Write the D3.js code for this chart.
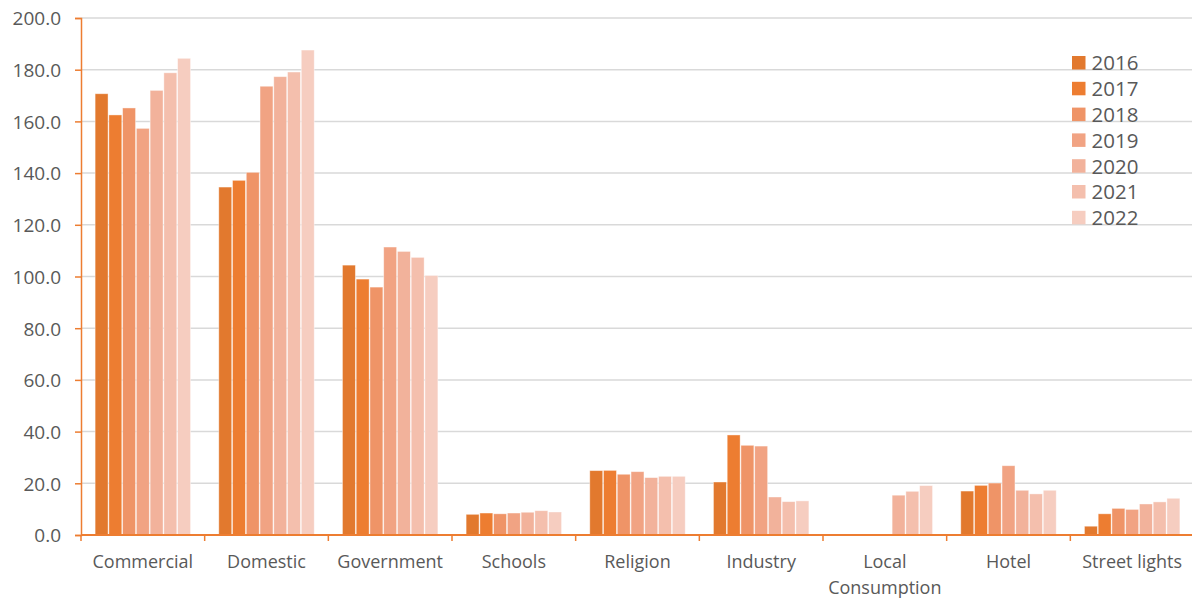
<!DOCTYPE html>
<html>
<head>
<meta charset="utf-8">
<script src="https://cdn.jsdelivr.net/npm/d3@7"></script>
<style>
  body { margin: 0; background: #fff; }
  text { font-family: "Open Sans", sans-serif; fill: #595959; }
</style>
</head>
<body>
<div id="chart"></div>
<script>
// Chart data
const categories = ["Commercial", "Domestic", "Government", "Schools", "Religion", "Industry", "Local Consumption", "Hotel", "Street lights"];
const years = ["2016", "2017", "2018", "2019", "2020", "2021", "2022"];
const v2016 = [170.7, 134.6, 104.4, 8.0, 24.9, 20.5, 0, 17.0, 3.4];
const v2017 = [162.5, 137.2, 99.0, 8.5, 25.0, 38.7, 0, 19.2, 8.2];
const v2018 = [165.2, 140.3, 95.9, 8.2, 23.5, 34.7, 0, 20.1, 10.3];
const v2019 = [157.3, 173.6, 111.4, 8.5, 24.5, 34.4, 0, 26.8, 9.9];
const v2020 = [172.0, 177.3, 109.7, 8.8, 22.2, 14.7, 15.4, 17.3, 12.0];
const v2021 = [178.8, 179.1, 107.4, 9.4, 22.7, 12.9, 16.9, 15.9, 12.8];
const v2022 = [184.4, 187.6, 100.4, 8.9, 22.7, 13.2, 19.1, 17.3, 14.2];
const yTicks = [0, 20, 40, 60, 80, 100, 120, 140, 160, 180, 200];

const series = [v2016, v2017, v2018, v2019, v2020, v2021, v2022];
const colors = ["#E2792E", "#ED7D31", "#EF9467", "#F1A383", "#F2B29B", "#F4BFAD", "#F6CDC0"];

const W = 1192, H = 601;
const margin = { top: 18, right: -2, bottom: 66, left: 81 };
const width = W - margin.left - margin.right,
    height = H - margin.top - margin.bottom;

const svg = d3.select("#chart").append("svg")
    .attr("width", W)
    .attr("height", H);

const g = svg.append("g")
    .attr("transform", `translate(${margin.left},${margin.top})`);

// Scales
const x0 = d3.scaleBand().domain(categories).range([0, width]).paddingInner(0.215).paddingOuter(0.1075);
const x1 = d3.scaleBand().domain(years).range([0, x0.bandwidth()]).padding(0.06);
const y = d3.scaleLinear().domain([0, 200]).range([height, 0]);

// Gridlines
g.selectAll(".grid")
    .data(yTicks.filter(d => d > 0))
    .enter().append("line")
    .attr("x1", 0).attr("x2", width)
    .attr("y1", d => y(d)).attr("y2", d => y(d))
    .attr("stroke", "#D9D9D9")
    .attr("stroke-width", 1.5);

// Bars
const step = width / categories.length;
const groups = g.selectAll(".cat")
    .data(categories)
    .enter().append("g")
    .attr("transform", d => `translate(${x0(d)},0)`);

groups.selectAll("rect")
    .data((c, i) => years.map((yr, j) => ({ yr, v: series[j][i], j })))
    .enter().append("rect")
    .filter(d => d.v > 0)
    .attr("x", d => x1(d.yr))
    .attr("y", d => y(d.v))
    .attr("width", x1.bandwidth())
    .attr("height", d => height - y(d.v))
    .attr("fill", d => colors[d.j])
    .attr("stroke", "#fff")
    .attr("stroke-opacity", 0.5)
    .attr("stroke-width", 0.8);

// Y axis
const yAxis = g.append("g")
    .call(d3.axisLeft(y).tickValues(yTicks).tickFormat(d3.format(".1f")).tickSize(6).tickPadding(14));
yAxis.select(".domain").attr("stroke", "#ED7D31").attr("stroke-width", 1.5);
yAxis.selectAll(".tick line").attr("stroke", "#ED7D31").attr("stroke-width", 1.5);
yAxis.selectAll(".tick text").style("font-size", "19px").attr("fill", "#595959").attr("dy", "0.36em");

// X axis line and category separators
g.append("line")
    .attr("x1", 0).attr("x2", width)
    .attr("y1", height).attr("y2", height)
    .attr("stroke", "#ED7D31").attr("stroke-width", 2);
g.selectAll(".sep")
    .data(d3.range(categories.length + 1))
    .enter().append("line")
    .attr("x1", d => d * step).attr("x2", d => d * step)
    .attr("y1", height).attr("y2", height + 6)
    .attr("stroke", "#ED7D31").attr("stroke-width", 1.5);

// X labels
g.selectAll(".xl")
    .data(categories)
    .enter().append("text")
    .attr("text-anchor", "middle")
    .attr("x", d => x0(d) + x0.bandwidth() / 2)
    .attr("y", height + 33)
    .style("font-size", "18px")
    .each(function (d) {
        const words = d === "Local Consumption" ? ["Local", "Consumption"] : [d];
        words.forEach((w, i) => {
            d3.select(this).append("tspan")
                .attr("x", x0(d) + x0.bandwidth() / 2)
                .attr("dy", i === 0 ? 0 : 26)
                .text(w);
        });
    });

// Legend
const legend = svg.append("g").attr("transform", "translate(1072,56)");
years.forEach((yr, i) => {
    const row = legend.append("g").attr("transform", `translate(0,${i * 25.8})`);
    row.append("rect").attr("width", 13.5).attr("height", 13.5).attr("fill", colors[i]);
    row.append("text")
        .attr("x", 19.5).attr("y", 7)
        .attr("dy", "0.36em")
        .style("font-size", "20.5px")
        .text(yr);
});
</script>
</body>
</html>
